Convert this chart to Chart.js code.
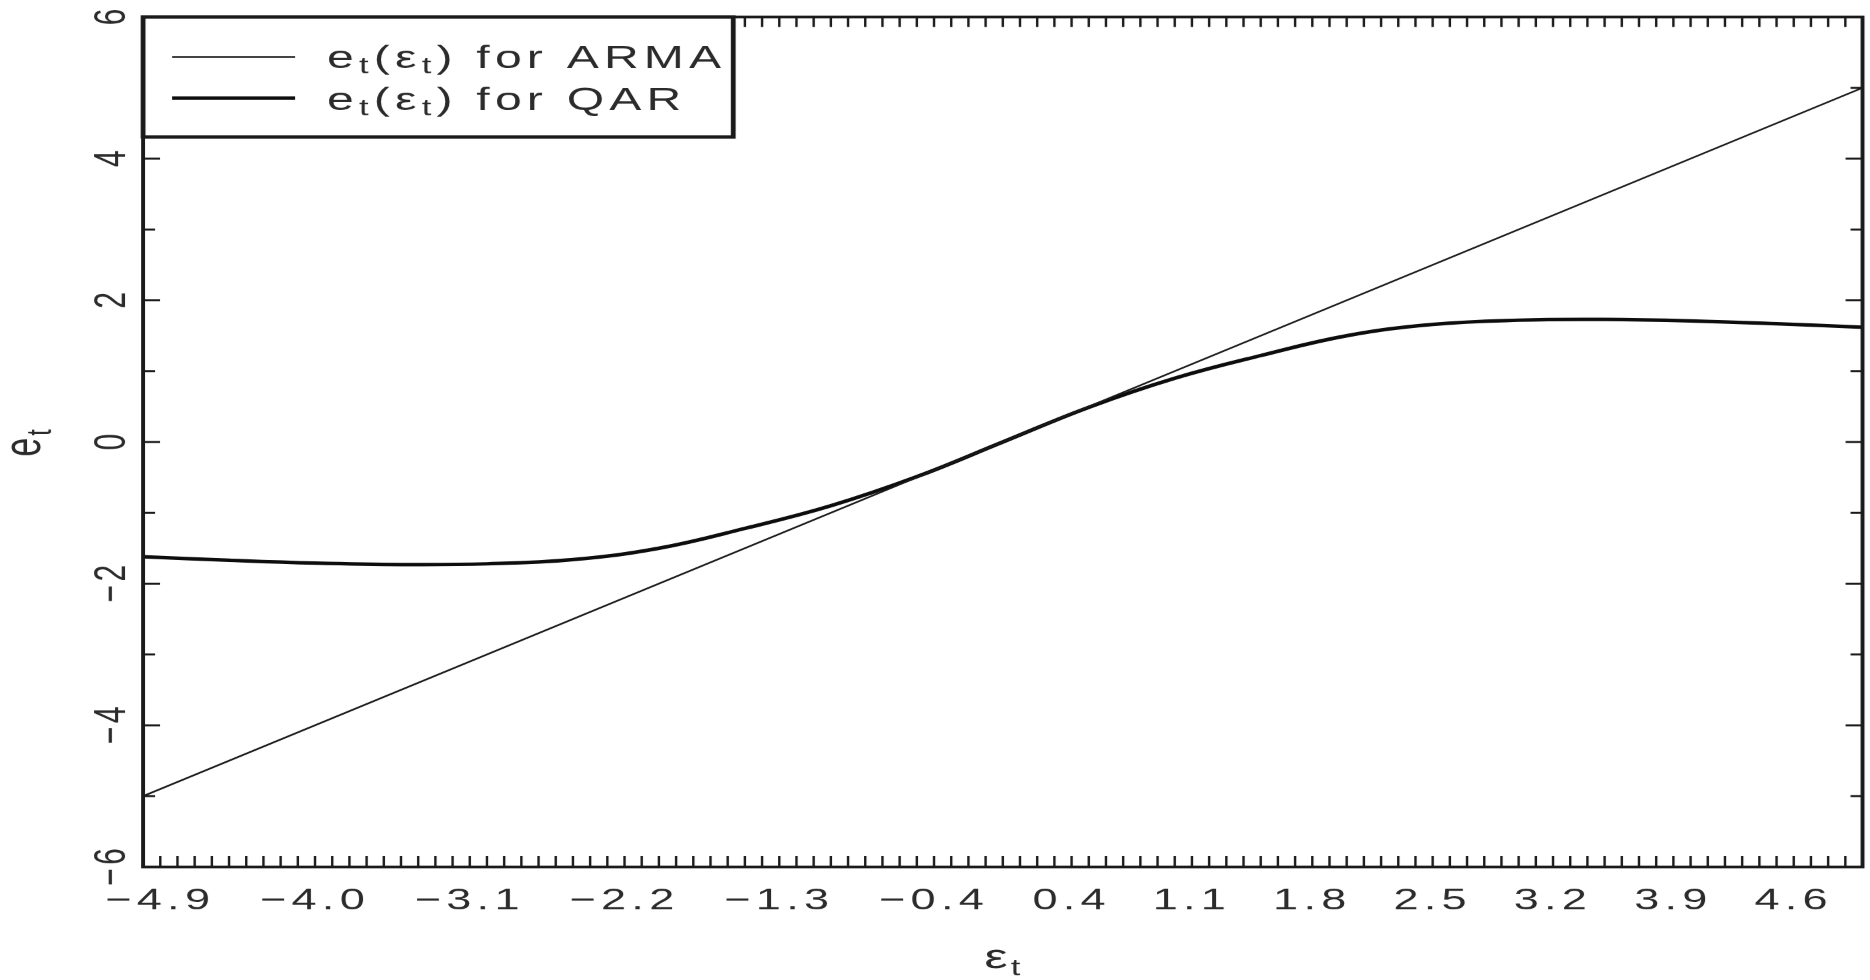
<!DOCTYPE html>
<html>
<head>
<meta charset="utf-8">
<script src="https://cdn.jsdelivr.net/npm/chart.js@4.4.1/dist/chart.umd.min.js"></script>
<style>
  html, body { margin: 0; padding: 0; background: #ffffff; overflow: hidden; }
  /* the plot is laid out on a narrower canvas and widened, giving the broad lettering */
  #wrap { width: 1247px; height: 980px; transform: scaleX(1.49960); transform-origin: 0 0; }
</style>
</head>
<body>
<div id="wrap"><canvas id="c" width="1247" height="980"></canvas></div>
<script>
// innovation values and the implied error response
const epsGrid     = [-5, -4.5, -4, -3.5, -3, -2.5, -2, -1.5, -1, -0.5, 0, 0.5, 1, 1.5, 2, 2.5, 3, 3.5, 4, 4.5, 5];
const qarResponse = [-1.62, -1.67, -1.71, -1.73, -1.72, -1.66, -1.50, -1.22, -0.90, -0.49, 0, 0.49, 0.90, 1.22, 1.50, 1.66, 1.72, 1.73, 1.71, 1.67, 1.62];
const armaEps      = [-5, 5];
const armaResponse = [-5, 5];

const seriesNames = ['e_t(ε_t) for ARMA', 'e_t(ε_t) for QAR'];
const xTickLabels = ['−4.9', '−4.0', '−3.1', '−2.2', '−1.3', '−0.4', '0.4', '1.1', '1.8', '2.5', '3.2', '3.9', '4.6'];
const yTickLabels = ['−6', '−4', '−2', '0', '2', '4', '6'];
const xTitle = 'ε_t';
const yTitle = 'e_t';

const FONT = '"Liberation Sans", Arial, sans-serif';
const INK = '#1a1a1a';
const TEXT = '#2b2b2b';
const num = s => parseFloat(s.replace('−', '-'));

// text with single-character subscripts written as _x
function richParts(s) {
  const parts = []; let buf = '';
  for (let i = 0; i < s.length; i++) {
    if (s[i] === '_' && i + 1 < s.length) {
      if (buf) { parts.push({ t: buf, sub: false }); buf = ''; }
      parts.push({ t: s[i + 1], sub: true }); i++;
    } else buf += s[i];
  }
  if (buf) parts.push({ t: buf, sub: false });
  return parts;
}
function drawRich(ctx, s, x, y, size, subSize, subDrop, spacing, align) {
  const parts = richParts(s);
  ctx.letterSpacing = spacing + 'px';
  const widths = parts.map(p => { ctx.font = (p.sub ? subSize : size) + 'px ' + FONT; return ctx.measureText(p.t).width; });
  const total = widths.reduce((a, b) => a + b, 0);
  let cx = align === 'center' ? x - total / 2 : x;
  ctx.textAlign = 'left';
  ctx.textBaseline = 'alphabetic';
  parts.forEach((p, i) => {
    ctx.font = (p.sub ? subSize : size) + 'px ' + FONT;
    ctx.fillText(p.t, cx, y + (p.sub ? subDrop : 0));
    cx += widths[i];
  });
}

const frame = {
  id: 'frame',
  beforeDraw(chart) {
    chart.ctx.letterSpacing = '3.5px';
  },
  afterDatasetsDraw(chart) {
    const ctx = chart.ctx;
    const { left, right, top, bottom } = chart.chartArea;
    const xs = chart.scales.x, ys = chart.scales.y;
    ctx.save();
    ctx.strokeStyle = INK;
    ctx.lineCap = 'butt';
    // inward minor ticks along top and bottom
    ctx.lineWidth = 1.6;
    ctx.beginPath();
    for (let k = -49; k <= 49; k++) {
      const px = xs.getPixelForValue(k / 10);
      ctx.moveTo(px, bottom); ctx.lineTo(px, bottom - 11);
      ctx.moveTo(px, top); ctx.lineTo(px, top + 10);
    }
    ctx.stroke();
    // inward ticks along left and right
    ctx.lineWidth = 2;
    ctx.beginPath();
    for (let v = ys.min + 1; v < ys.max; v++) {
      const py = ys.getPixelForValue(v);
      const len = v % 2 === 0 ? 11.3 : 8;
      ctx.moveTo(left, py); ctx.lineTo(left + len, py);
      ctx.moveTo(right, py); ctx.lineTo(right - len, py);
    }
    ctx.stroke();
    ctx.lineWidth = 2.6;
    ctx.strokeRect(left, top, right - left, bottom - top);
    ctx.restore();
  },
  afterDraw(chart) {
    const ctx = chart.ctx;
    const { left, right, top, bottom } = chart.chartArea;
    const ys = chart.scales.y;
    ctx.save();
    ctx.fillStyle = TEXT;
    // y tick labels, reading upward
    ctx.letterSpacing = '3.5px';
    ctx.font = '30px ' + FONT;
    ys.ticks.forEach(t => {
      const lbl = yTickLabels.find(s => num(s) === t.value);
      if (lbl === undefined) return;
      const py = ys.getPixelForValue(t.value);
      ctx.save();
      ctx.translate(83.4, py);
      ctx.rotate(-Math.PI / 2);
      ctx.textAlign = 'center';
      ctx.textBaseline = 'alphabetic';
      ctx.fillText(lbl, 1.75, 0);
      ctx.restore();
    });
    // axis titles
    drawRich(ctx, xTitle, (left + right) / 2 + 0.7, 968, 35, 23, 7, 2, 'center');
    ctx.save();
    ctx.translate(26.7, (top + bottom) / 2);
    ctx.rotate(-Math.PI / 2);
    drawRich(ctx, yTitle, 0, 0, 34, 23, 7, 2, 'center');
    ctx.restore();

    // legend box
    const bx0 = left, by0 = top, bx1 = 488.8, by1 = 137;
    ctx.fillStyle = '#ffffff';
    ctx.fillRect(bx0, by0, bx1 - bx0, by1 - by0);
    ctx.strokeStyle = INK;
    ctx.lineWidth = 3.2;
    ctx.strokeRect(bx0, by0, bx1 - bx0, by1 - by0);
    const rowsY = [57, 98];
    const baseY = [68, 110];
    chart.data.datasets.forEach((ds, i) => {
      ctx.strokeStyle = ds.borderColor;
      ctx.lineWidth = ds.borderWidth;
      ctx.beginPath();
      ctx.moveTo(114.7, rowsY[i]); ctx.lineTo(196.7, rowsY[i]);
      ctx.stroke();
      ctx.fillStyle = TEXT;
      drawRich(ctx, ds.label, 218, baseY[i], 32, 23, 5, 3.5, 'left');
    });
    ctx.restore();
  }
};

new Chart(document.getElementById('c'), {
  type: 'line',
  data: {
    datasets: [
      {
        label: seriesNames[0],
        data: armaEps.map((x, i) => ({ x, y: armaResponse[i] })),
        borderColor: INK, borderWidth: 1.6, pointRadius: 0, tension: 0, fill: false
      },
      {
        label: seriesNames[1],
        data: epsGrid.map((x, i) => ({ x, y: qarResponse[i] })),
        borderColor: '#0d0d0d', borderWidth: 3.5, pointRadius: 0, tension: 0.4, fill: false
      }
    ]
  },
  options: {
    responsive: false,
    animation: false,
    devicePixelRatio: 1.5,
    layout: { padding: { left: 0, top: 17, right: 5.34, bottom: 0 } },
    plugins: { legend: { display: false }, tooltip: { enabled: false }, title: { display: false } },
    scales: {
      x: {
        type: 'linear', min: -5, max: 5,
        afterBuildTicks: s => { s.ticks = xTickLabels.map(l => ({ value: num(l) })); },
        afterFit: s => { s.height = 113; },
        grid: { display: false, drawTicks: false },
        border: { display: false },
        ticks: {
          autoSkip: false, maxRotation: 0, minRotation: 0, padding: 16,
          color: TEXT, font: { family: FONT, size: 30 },
          callback: v => xTickLabels.find(l => Math.abs(num(l) - v) < 1e-9)
        }
      },
      y: {
        type: 'linear', min: -6, max: 6,
        ticks: { display: false, stepSize: 2 },
        afterFit: s => { s.width = 95.36; },
        grid: { display: false, drawTicks: false },
        border: { display: false }
      }
    }
  },
  plugins: [frame]
});
</script>
</body>
</html>
